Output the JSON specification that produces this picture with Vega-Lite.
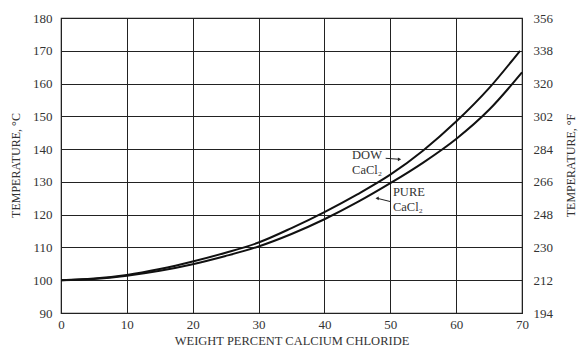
{
  "$schema": "https://vega.github.io/schema/vega-lite/v6.json",
  "autosize": "none",
  "width": 461,
  "height": 295,
  "padding": {"left": 61, "top": 18, "right": 56, "bottom": 36},
  "background": "white",
  "config": {
    "view": {"stroke": "#222", "strokeWidth": 1.2},
    "font": "Liberation Serif",
    "axis": {"labelFont": "Liberation Serif", "titleFont": "Liberation Serif", "labelColor": "#333", "titleColor": "#333", "titleFontWeight": "normal", "domain": false, "ticks": false, "gridColor": "#222", "gridOpacity": 1, "gridWidth": 1, "labelOverlap": false, "labelBound": false}
  },
  "datasets": {
    "curves": [
      {"pct": 0, "temp": 100, "series": "DOW"},
      {"pct": 5, "temp": 100.5, "series": "DOW"},
      {"pct": 10, "temp": 101.6, "series": "DOW"},
      {"pct": 15, "temp": 103.4, "series": "DOW"},
      {"pct": 20, "temp": 105.7, "series": "DOW"},
      {"pct": 25, "temp": 108.4, "series": "DOW"},
      {"pct": 30, "temp": 111.5, "series": "DOW"},
      {"pct": 35, "temp": 115.9, "series": "DOW"},
      {"pct": 40, "temp": 120.8, "series": "DOW"},
      {"pct": 45, "temp": 126.2, "series": "DOW"},
      {"pct": 50, "temp": 132.2, "series": "DOW"},
      {"pct": 55, "temp": 139.6, "series": "DOW"},
      {"pct": 60, "temp": 148.4, "series": "DOW"},
      {"pct": 65, "temp": 158.6, "series": "DOW"},
      {"pct": 69.7, "temp": 170, "series": "DOW"},
      {"pct": 0, "temp": 100, "series": "PURE"},
      {"pct": 5, "temp": 100.4, "series": "PURE"},
      {"pct": 10, "temp": 101.4, "series": "PURE"},
      {"pct": 15, "temp": 102.9, "series": "PURE"},
      {"pct": 20, "temp": 104.9, "series": "PURE"},
      {"pct": 25, "temp": 107.4, "series": "PURE"},
      {"pct": 30, "temp": 110.3, "series": "PURE"},
      {"pct": 35, "temp": 114.1, "series": "PURE"},
      {"pct": 40, "temp": 118.6, "series": "PURE"},
      {"pct": 45, "temp": 123.8, "series": "PURE"},
      {"pct": 50, "temp": 129.6, "series": "PURE"},
      {"pct": 55, "temp": 135.9, "series": "PURE"},
      {"pct": 60, "temp": 143.1, "series": "PURE"},
      {"pct": 65, "temp": 152.0, "series": "PURE"},
      {"pct": 70, "temp": 163.4, "series": "PURE"}
    ],
    "labels": [
      {"pct": 44.2, "temp": 138.2, "text": "DOW"},
      {"pct": 44.2, "temp": 133.5, "text": "CaCl₂"},
      {"pct": 50.4, "temp": 126.9, "text": "PURE"},
      {"pct": 50.4, "temp": 122.2, "text": "CaCl₂"}
    ],
    "arrows": [
      {"pct": 49.3, "temp": 137.2, "pct2": 51.4, "temp2": 136.9},
      {"pct": 50.0, "temp": 124.0, "pct2": 48.0, "temp2": 125.0}
    ],
    "heads": [
      {"pct": 51.4, "temp": 136.9, "head": "DOW"},
      {"pct": 48.0, "temp": 125.0, "head": "PURE"}
    ],
    "faxis": [{"f": 194}, {"f": 356}]
  },
  "layer": [
    {
      "encoding": {
        "x": {"field": "pct", "type": "quantitative", "scale": {"domain": [0, 70], "nice": false},
          "axis": {"title": "WEIGHT PERCENT CALCIUM CHLORIDE", "values": [0,10,20,30,40,50,60,70], "labelFontSize": 13, "titleFontSize": 12.5, "labelPadding": 5, "titlePadding": 3, "grid": true, "labelFlush": false, "labelOverlap": false}},
        "y": {"field": "temp", "type": "quantitative", "scale": {"domain": [90, 180], "nice": false},
          "axis": {"title": "TEMPERATURE, °C", "values": [90,100,110,120,130,140,150,160,170,180], "labelFontSize": 13, "titleFontSize": 12, "labelPadding": 9, "grid": true, "labelOverlap": false, "labelFlush": false, "titleX": -46, "titleY": 147, "titleAngle": -90, "titleBaseline": "middle", "titleAlign": "center"}}
      },
      "layer": [
        {
          "data": {"name": "curves"},
          "mark": {"type": "line", "color": "#111", "strokeWidth": 2, "interpolate": "monotone"},
          "encoding": {"detail": {"field": "series"}}
        },
        {
          "data": {"name": "labels"},
          "mark": {"type": "text", "align": "left", "baseline": "middle", "fontSize": 12.5, "font": "Liberation Serif", "color": "#333"},
          "encoding": {"text": {"field": "text"}}
        },
        {
          "data": {"name": "arrows"},
          "mark": {"type": "rule", "color": "#222", "strokeWidth": 1},
          "encoding": {"x2": {"field": "pct2"}, "y2": {"field": "temp2"}}
        },
        {
          "data": {"name": "heads"},
          "mark": {"type": "point", "filled": true, "color": "#222", "size": 14, "opacity": 1},
          "encoding": {
            "shape": {"field": "head", "type": "nominal", "scale": {"domain": ["DOW", "PURE"], "range": ["triangle-right", "triangle-left"]}, "legend": null}
          }
        }
      ]
    },
    {
      "data": {"name": "faxis"},
      "mark": {"type": "point", "opacity": 0},
      "encoding": {
        "y": {"field": "f", "type": "quantitative", "scale": {"domain": [194, 356], "nice": false},
          "axis": {"orient": "right", "title": "TEMPERATURE, °F", "values": [194,212,230,248,266,284,302,320,338,356], "labelFontSize": 13, "titleFontSize": 12, "labelPadding": 11, "grid": false, "labelOverlap": false, "labelFlush": false, "titleX": 48, "titleY": 147, "titleAngle": -90, "titleBaseline": "middle", "titleAlign": "center"}}
      }
    }
  ],
  "resolve": {"scale": {"y": "independent"}}
}
